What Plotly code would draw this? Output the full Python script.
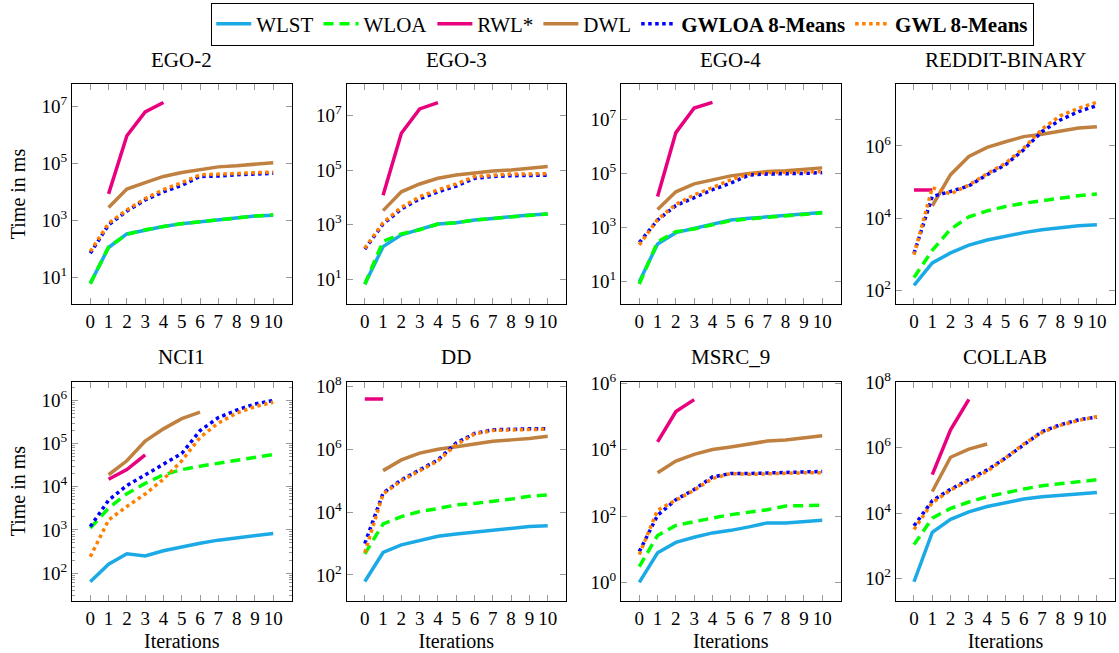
import plotly.graph_objects as go

iterations = [0, 1, 2, 3, 4, 5, 6, 7, 8, 9, 10]
series_names = ["WLST", "WLOA", "RWL*", "DWL", "<b>GWLOA 8-Means</b>", "<b>GWL 8-Means</b>"]
dataset_names = ["EGO-2", "EGO-3", "EGO-4", "REDDIT-BINARY", "NCI1", "DD", "MSRC_9", "COLLAB"]
N = None

# ---- EGO-2 (ms)
ego2_wlst = [6.0, 110, 330, 460, 600, 760, 890, 1000, 1200, 1400, 1500]
ego2_wloa = [5.8, 115, 320, 460, 600, 760, 890, 1000, 1200, 1400, 1550]
ego2_rwl = [N, 8.5e3, 9.5e5, 6.6e6, 1.4e7, N, N, N, N, N, N]
ego2_dwl = [N, 2.8e3, 1.26e4, 2.1e4, 3.5e4, 4.8e4, 6.2e4, 7.6e4, 8.3e4, 9.5e4, 1.07e5]
ego2_gwloa = [69, 690, 2.1e3, 5.2e3, 1.0e4, 1.7e4, 3.5e4, 3.6e4, 4.0e4, 4.2e4, 4.5e4]
ego2_gwl = [79, 780, 2.3e3, 5.8e3, 1.2e4, 2.1e4, 4.0e4, 4.3e4, 4.5e4, 4.8e4, 5.0e4]

# ---- EGO-3
ego3_wlst = [6.8, 160, 430, 660, 1070, 1200, 1500, 1700, 2000, 2300, 2500]
ego3_wloa = [6.8, 250, 470, 660, 1070, 1200, 1500, 1700, 2000, 2300, 2500]
ego3_rwl = [N, 1.2e4, 2.2e6, 1.7e7, 2.9e7, N, N, N, N, N, N]
ego3_dwl = [N, 3.3e3, 1.6e4, 3.1e4, 5.0e4, 6.6e4, 8.1e4, 9.3e4, 1.0e5, 1.17e5, 1.35e5]
ego3_gwloa = [130, 1070, 3.8e3, 8.9e3, 1.6e4, 2.6e4, 5.0e4, 5.8e4, 6.2e4, 6.3e4, 6.5e4]
ego3_gwl = [140, 1200, 4.3e3, 1.07e4, 1.9e4, 3.1e4, 5.8e4, 6.6e4, 7.1e4, 7.2e4, 7.4e4]

# ---- EGO-4
ego4_wlst = [10, 250, 650, 930, 1350, 1900, 2200, 2500, 3000, 3400, 3600]
ego4_wloa = [8.3, 300, 710, 890, 1260, 1800, 2100, 2400, 2800, 3200, 3500]
ego4_rwl = [N, 1.4e4, 3.2e6, 2.6e7, 4.2e7, N, N, N, N, N, N]
ego4_dwl = [N, 4.7e3, 2.1e4, 4.1e4, 5.8e4, 8.1e4, 1.0e5, 1.17e5, 1.26e5, 1.4e5, 1.6e5]
ego4_gwloa = [280, 1900, 6.5e3, 1.3e4, 2.5e4, 4.4e4, 8.7e4, 9.5e4, 9.5e4, 1.0e5, 1.07e5]
ego4_gwl = [230, 2000, 7.2e3, 1.6e4, 3.0e4, 5.8e4, 9.5e4, 1.07e5, 1.1e5, 1.12e5, 1.17e5]

# ---- REDDIT-BINARY
reddit_wlst = [140, 580, 1100, 1800, 2500, 3200, 4000, 4800, 5500, 6200, 6600]
reddit_wloa = [230, 1300, 5.0e3, 1.1e4, 1.6e4, 2.1e4, 2.6e4, 3.1e4, 3.6e4, 4.2e4, 4.7e4]
reddit_rwl = [6.0e4, 6.0e4, N, N, N, N, N, N, N, N, N]
reddit_dwl = [N, 2.2e4, 1.6e5, 5.1e5, 9.1e5, 1.3e6, 1.8e6, 2.1e6, 2.5e6, 3.1e6, 3.4e6]
reddit_gwloa = [1070, 4.0e4, 5.5e4, 7.8e4, 1.6e5, 3.0e5, 7.8e5, 2.5e6, 5.2e6, 8.9e6, 1.3e7]
reddit_gwl = [980, 7.0e4, 4.7e4, 8.3e4, 1.7e5, 3.3e5, 8.7e5, 2.9e6, 6.8e6, 1.1e7, 1.6e7]

# ---- NCI1
nci1_wlst = [63, 160, 280, 250, 330, 410, 490, 580, 660, 740, 830]
nci1_wloa = [1100, 3.2e3, 6.9e3, 1.2e4, 1.9e4, 2.5e4, 3.0e4, 3.5e4, 4.1e4, 4.7e4, 5.6e4]
nci1_rwl = [N, 1.5e4, 2.5e4, 5.5e4, N, N, N, N, N, N, N]
nci1_dwl = [N, 1.9e4, 4.0e4, 1.15e5, 2.2e5, 3.8e5, 5.4e5, N, N, N, N]
nci1_gwloa = [1200, 4.9e3, 1.07e4, 1.9e4, 3.2e4, 5.9e4, 2.0e5, 4.0e5, 6.0e5, 8.3e5, 1.0e6]
nci1_gwl = [240, 1700, 3.5e3, 6.8e3, 1.5e4, 4.0e4, 1.4e5, 3.0e5, 5.1e5, 7.2e5, 9.1e5]

# ---- DD
dd_wlst = [62, 520, 910, 1260, 1700, 2000, 2300, 2800, 3100, 3500, 3700]
dd_wloa = [470, 4.2e3, 7.2e3, 1.05e4, 1.3e4, 1.7e4, 1.9e4, 2.2e4, 2.6e4, 3.2e4, 3.5e4]
dd_rwl = [4.0e7, 4.0e7, N, N, N, N, N, N, N, N, N]
dd_dwl = [N, 2.1e5, 4.6e5, 7.6e5, 1.0e6, 1.2e6, 1.5e6, 1.8e6, 2.0e6, 2.2e6, 2.6e6]
dd_gwloa = [1000, 4.0e4, 1.07e5, 2.2e5, 4.6e5, 1.6e6, 3.2e6, 4.2e6, 4.4e6, 4.5e6, 4.5e6]
dd_gwl = [510, 3.8e4, 1.0e5, 2.1e5, 4.3e5, 1.4e6, 3.1e6, 4.0e6, 4.2e6, 4.3e6, 4.4e6]

# ---- MSRC_9
msrc_wlst = [1.0, 7.8, 16, 23, 31, 37, 47, 62, 62, 66, 74]
msrc_wloa = [3.0, 26, 52, 69, 87, 110, 130, 155, 200, 200, 210]
msrc_rwl = [N, 1.7e4, 1.4e5, 3.2e5, N, N, N, N, N, N, N]
msrc_dwl = [N, 2.0e3, 4.5e3, 7.2e3, 1.0e4, 1.2e4, 1.45e4, 1.8e4, 1.95e4, 2.2e4, 2.6e4]
msrc_gwloa = [8.5, 105, 310, 630, 1500, 1900, 1900, 2000, 2050, 2100, 2200]
msrc_gwl = [6.9, 150, 300, 600, 1350, 1900, 1800, 1900, 1900, 2000, 2000]

# ---- COLLAB
collab_wlst = [81, 2.6e3, 6.5e3, 1.1e4, 1.6e4, 2.1e4, 2.7e4, 3.2e4, 3.6e4, 3.9e4, 4.3e4]
collab_wloa = [1100, 7.1e3, 1.4e4, 2.2e4, 3.2e4, 4.3e4, 5.5e4, 6.9e4, 8.1e4, 9.3e4, 1.05e5]
collab_rwl = [N, 1.5e5, 3.5e6, 3.0e7, N, N, N, N, N, N, N]
collab_dwl = [N, 4.6e4, 5.1e5, 9.1e5, 1.3e6, N, N, N, N, N, N]
collab_gwloa = [4.1e3, 2.4e4, 5.4e4, 1.1e5, 2.1e5, 4.8e5, 1.2e6, 3.1e6, 5.0e6, 7.1e6, 8.5e6]
collab_gwl = [3.2e3, 2.1e4, 5.1e4, 1.0e5, 1.9e5, 4.8e5, 1.3e6, 2.9e6, 4.8e6, 6.8e6, 8.9e6]

all_series = [
    [ego2_wlst, ego2_wloa, ego2_rwl, ego2_dwl, ego2_gwloa, ego2_gwl],
    [ego3_wlst, ego3_wloa, ego3_rwl, ego3_dwl, ego3_gwloa, ego3_gwl],
    [ego4_wlst, ego4_wloa, ego4_rwl, ego4_dwl, ego4_gwloa, ego4_gwl],
    [reddit_wlst, reddit_wloa, reddit_rwl, reddit_dwl, reddit_gwloa, reddit_gwl],
    [nci1_wlst, nci1_wloa, nci1_rwl, nci1_dwl, nci1_gwloa, nci1_gwl],
    [dd_wlst, dd_wloa, dd_rwl, dd_dwl, dd_gwloa, dd_gwl],
    [msrc_wlst, msrc_wloa, msrc_rwl, msrc_dwl, msrc_gwloa, msrc_gwl],
    [collab_wlst, collab_wloa, collab_rwl, collab_dwl, collab_gwloa, collab_gwl],
]

# y-axis tick exponents shown and axis ranges (log10)
y_tick_exponents = [[1, 3, 5, 7], [1, 3, 5, 7], [1, 3, 5, 7], [2, 4, 6],
                    [2, 3, 4, 5, 6], [2, 4, 6, 8], [0, 2, 4, 6], [2, 4, 6, 8]]
y_ranges = [[0.05, 7.8], [0.11, 8.14], [0.18, 8.3], [1.63, 7.71],
            [1.36, 6.44], [1.18, 8.16], [-0.55, 6.05], [1.33, 8.02]]

# ---- styles
colors = ["#1CAAE6", "#00FF00", "#E8007F", "#BF8040", "#0000FF", "#FF8000"]
dashes = ["solid", "10px,6px", "solid", "solid", "dot", "dot"]
widths = [3.5, 3.5, 3.5, 3.5, 3.5, 3.5]

W, H = 1119, 653
col_left = [72, 346.5, 621, 895.7]
col_w = 219.5
row_top = [84, 381.5]
row_bottom = [304, 600.7]
FONT = "Liberation Serif"
TICK_SIZE = 19

fig = go.Figure()
layout = {}
for k, dname in enumerate(dataset_names):
    r, c = divmod(k, 4)
    idx = "" if k == 0 else str(k + 1)
    xa, ya = "x" + idx, "y" + idx
    for s in range(6):
        fig.add_trace(go.Scatter(
            x=iterations, y=all_series[k][s], mode="lines",
            name=series_names[s], legendgroup=series_names[s], showlegend=(k == 0),
            line=dict(color=colors[s], width=widths[s], dash=dashes[s]),
            xaxis=xa, yaxis=ya, connectgaps=False,
        ))
    xd = [col_left[c] / W, (col_left[c] + col_w) / W]
    yd = [1 - row_bottom[r] / H, 1 - row_top[r] / H]
    exps = y_tick_exponents[k]
    layout["xaxis" + idx] = dict(
        domain=xd, anchor=ya, range=[-1, 11], tickvals=iterations,
        ticktext=[str(i) for i in iterations], automargin=False,
        ticks="inside", ticklen=6, tickcolor="#999999", mirror="allticks",
        showline=True, linecolor="black", linewidth=1, showgrid=False, zeroline=False,
        tickfont=dict(family=FONT, size=TICK_SIZE, color="black"),
        title=dict(text="Iterations" if r == 1 else "", font=dict(family=FONT, size=20, color="black"), standoff=6),
    )
    ydict = dict(
        domain=yd, anchor=xa, type="log", range=y_ranges[k], automargin=False,
        tickvals=[10 ** e for e in exps], ticktext=["10<sup>%d</sup>" % e for e in exps],
        ticks="inside", ticklen=6, tickcolor="#999999", mirror="allticks",
        showline=True, linecolor="black", linewidth=1, showgrid=False, zeroline=False,
        tickfont=dict(family=FONT, size=TICK_SIZE, color="black"),
        title=dict(text="Time in ms" if c == 0 else "", font=dict(family=FONT, size=20, color="black"), standoff=10),
    )
    if k == 4:
        ydict["minor"] = dict(ticks="inside", ticklen=3, tickcolor="#999999",
                              tickvals=[m * 10 ** e for e in [1, 2, 3, 4, 5, 6] for m in range(2, 10)])
    layout["yaxis" + idx] = ydict

annotations = []
for k, dname in enumerate(dataset_names):
    r, c = divmod(k, 4)
    annotations.append(dict(
        text=dname, x=(col_left[c] + col_w / 2) / W, y=1 - [60, 357][r] / H,
        xref="paper", yref="paper", showarrow=False, xanchor="center", yanchor="middle",
        font=dict(family=FONT, size=21, color="black"),
    ))

fig.update_layout(
    **layout,
    width=W, height=H, margin=dict(l=0, r=0, t=0, b=0, autoexpand=False),
    paper_bgcolor="white", plot_bgcolor="white",
    annotations=annotations,
    legend=dict(orientation="h", x=0.5565, y=0.996, xanchor="center", yanchor="top",
                bordercolor="black", borderwidth=1, bgcolor="white",
                font=dict(family=FONT, size=21, color="black"),
                itemwidth=35, tracegroupgap=0),
)
fig.write_html("out.html", config={"displayModeBar": False},
               post_script="document.body.style.margin='0px';document.body.style.overflow='hidden';")
